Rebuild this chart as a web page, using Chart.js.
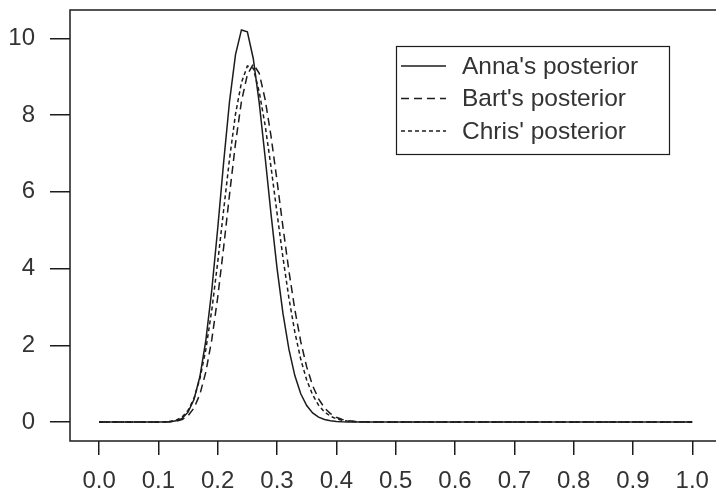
<!DOCTYPE html>
<html>
<head>
<meta charset="utf-8">
<script src="https://cdn.jsdelivr.net/npm/chart.js@4/dist/chart.umd.min.js"></script>
<style>
html,body{margin:0;padding:0;background:#fff;}
#wrap{width:716px;height:495px;position:relative;}
</style>
</head>
<body>
<div id="wrap"><canvas id="c" width="716" height="495"></canvas></div>
<script>
// theta grid (x values)
const thetas = [0, 0.05, 0.10, 0.11, 0.12, 0.13, 0.14, 0.15, 0.16, 0.17, 0.18, 0.19, 0.20, 0.21, 0.22, 0.23, 0.24, 0.25, 0.26, 0.27, 0.28, 0.29, 0.30, 0.31, 0.32, 0.33, 0.34, 0.35, 0.36, 0.37, 0.38, 0.39, 0.40, 0.41, 0.42, 0.43, 0.44, 0.45, 0.46, 0.47, 0.50, 0.60, 0.70, 0.80, 0.90, 1.00];
const annaPosterior = [0, 0, 0.0003, 0.0017, 0.008, 0.030, 0.096, 0.256, 0.587, 1.186, 2.129, 3.436, 5.044, 6.768, 8.367, 9.577, 10.22, 10.17, 9.47, 8.319, 6.895, 5.405, 4.012, 2.83, 1.899, 1.211, 0.737, 0.428, 0.237, 0.126, 0.064, 0.031, 0.014, 0.006, 0.003, 0.001, 0.0005, 0.0002, 0.0001, 0, 0, 0, 0, 0, 0, 0];
const bartPosterior = [0, 0, 0.0003, 0.0015, 0.0064, 0.021, 0.064, 0.163, 0.363, 0.724, 1.305, 2.145, 3.248, 4.554, 5.942, 7.264, 8.356, 9.056, 9.33, 9.09, 8.406, 7.439, 6.288, 5.083, 3.941, 2.932, 2.093, 1.437, 0.949, 0.603, 0.369, 0.218, 0.124, 0.068, 0.036, 0.018, 0.009, 0.004, 0.002, 0.001, 0, 0, 0, 0, 0, 0];
const chrisPosterior = [0, 0, 0.001, 0.005, 0.017, 0.051, 0.133, 0.303, 0.616, 1.131, 1.893, 2.917, 4.162, 5.526, 6.867, 8.028, 8.846, 9.28, 9.22, 8.604, 7.729, 6.633, 5.445, 4.284, 3.235, 2.345, 1.634, 1.095, 0.707, 0.439, 0.263, 0.152, 0.085, 0.046, 0.023, 0.011, 0.005, 0.002, 0.001, 0, 0, 0, 0, 0, 0, 0];
const seriesLabels = ["Anna's posterior", "Bart's posterior", "Chris' posterior"];
const xTickValues = [0.0, 0.1, 0.2, 0.3, 0.4, 0.5, 0.6, 0.7, 0.8, 0.9, 1.0];
const yTickValues = [0, 2, 4, 6, 8, 10];

const ink = '#1c1c1c';
const txt = '#333333';
const FONT = 'Liberation Sans, Arial, sans-serif';

function pts(vals){ return thetas.map((t,i)=>({x:t, y:vals[i]})); }

const framePlugin = {
  id:'frame',
  afterDraw(chart){
    const {ctx, chartArea:a} = chart;
    ctx.save();
    ctx.strokeStyle = ink;
    ctx.lineWidth = 1.5;
    ctx.beginPath();
    ctx.moveTo(a.right+2, a.top); ctx.lineTo(a.left, a.top);
    ctx.lineTo(a.left, a.bottom); ctx.lineTo(a.right+2, a.bottom);
    ctx.stroke();
    // legend box
    const bx=396.5, by=46.5, bw=273, bh=108;
    ctx.lineWidth = 1.2;
    ctx.strokeRect(bx, by, bw, bh);
    ctx.font = '24.5px ' + FONT;
    ctx.textBaseline = 'middle';
    ctx.fillStyle = txt;
    chart.data.datasets.forEach((ds,i)=>{
      const yy = 66 + i*32.5;
      ctx.beginPath();
      ctx.setLineDash(ds.borderDash || []);
      ctx.lineWidth = ds.borderWidth;
      ctx.strokeStyle = ds.borderColor;
      ctx.moveTo(401, yy); ctx.lineTo(446, yy);
      ctx.stroke();
      ctx.setLineDash([]);
      ctx.fillText(ds.label, 462, yy+1);
    });
    ctx.restore();
  }
};

new Chart(document.getElementById('c'), {
  type:'line',
  data:{
    datasets:[
      {label:seriesLabels[0], data:pts(annaPosterior), borderColor:ink, borderWidth:1.5, pointRadius:0, tension:0, fill:false},
      {label:seriesLabels[1], data:pts(bartPosterior), borderColor:ink, borderWidth:1.5, borderDash:[8,5], pointRadius:0, tension:0, fill:false},
      {label:seriesLabels[2], data:pts(chrisPosterior), borderColor:ink, borderWidth:1.5, borderDash:[4,3], pointRadius:0, tension:0, fill:false}
    ]
  },
  options:{
    responsive:false,
    animation:false,
    devicePixelRatio:1,
    layout:{padding:{top:10, right:0, left:0, bottom:0}},
    plugins:{legend:{display:false}, tooltip:{enabled:false}},
    scales:{
      x:{
        type:'linear', min:-0.049, max:1.04,
        afterBuildTicks(s){ s.ticks = xTickValues.map(v=>({value:v})); },
        afterFit(s){ s.height = 54; s.paddingLeft = 0; s.paddingRight = 0; },
        grid:{drawOnChartArea:false, drawTicks:true, tickLength:14, color:ink, lineWidth:1.5},
        border:{display:false},
        ticks:{color:txt, font:{family:FONT, size:24}, padding:12, maxRotation:0, autoSkip:false,
          callback:(v)=>Number(v).toFixed(1)}
      },
      y:{
        type:'linear', min:-0.495, max:10.74,
        afterBuildTicks(s){ s.ticks = yTickValues.map(v=>({value:v})); },
        afterFit(s){ s.width = 70; s.paddingTop = 0; s.paddingBottom = 0; },
        grid:{drawOnChartArea:false, drawTicks:true, tickLength:20, color:ink, lineWidth:1.5},
        border:{display:false},
        ticks:{color:txt, font:{family:FONT, size:24}, padding:15, autoSkip:false,
          callback:(v)=>String(v)}
      }
    }
  },
  plugins:[framePlugin]
});
</script>
</body>
</html>
